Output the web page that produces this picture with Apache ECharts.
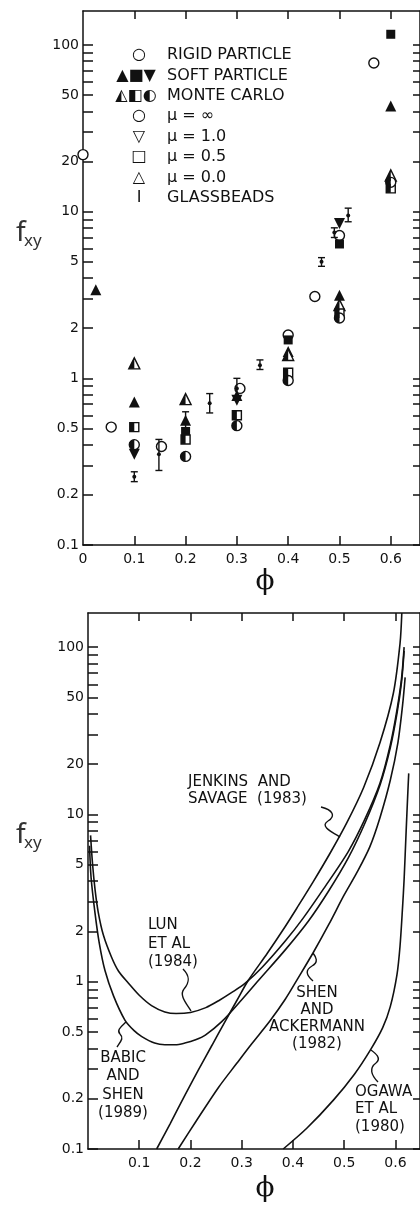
<!DOCTYPE html>
<html>
<head>
<meta charset="utf-8">
<script src="https://cdn.jsdelivr.net/npm/echarts@6/dist/echarts.min.js"></script>
<style>
  html, body { margin: 0; padding: 0; background: #fff; }
  #chart { width: 420px; height: 1206px; }
</style>
</head>
<body>
<div id="chart"></div>
<script>
// ---- top panel: f_xy vs phi, simulation points ----
var rigidPhi = [0.0, 0.055, 0.153, 0.306, 0.4, 0.452, 0.5, 0.567];
var rigidF = [22, 0.51, 0.39, 0.87, 1.82, 3.1, 7.2, 78];

var softUpPhi = [0.025, 0.1, 0.2, 0.3, 0.4, 0.5, 0.6];   // mu = 0.0
var softUpF = [3.4, 0.72, 0.56, 0.79, 1.45, 3.15, 43];
var softSqPhi = [0.2, 0.4, 0.5, 0.6];                    // mu = 0.5
var softSqF = [0.48, 1.7, 6.4, 116];
var softDownPhi = [0.1, 0.3, 0.5];                       // mu = 1.0
var softDownF = [0.35, 0.74, 8.5];

var mcTriPhi = [0.1, 0.2, 0.4, 0.5, 0.6];
var mcTriF = [1.23, 0.75, 1.38, 2.75, 16.5];
var mcSqPhi = [0.1, 0.2, 0.3, 0.4, 0.5, 0.6];
var mcSqF = [0.51, 0.43, 0.6, 1.08, 2.45, 13.8];
var mcCircPhi = [0.1, 0.2, 0.3, 0.4, 0.5, 0.6];
var mcCircF = [0.40, 0.34, 0.52, 0.97, 2.3, 15];

var glassPhi = [0.1, 0.148, 0.2, 0.247, 0.3, 0.345, 0.465, 0.49, 0.517];
var glassMid = [0.257, 0.35, 0.55, 0.71, 0.87, 1.2, 5.0, 7.5, 9.5];
var glassLo = [0.24, 0.28, 0.5, 0.62, 0.75, 1.13, 4.7, 7.0, 8.7];
var glassHi = [0.275, 0.43, 0.63, 0.81, 1.0, 1.29, 5.3, 8.0, 10.5];

// ---- bottom panel: model curves ----
var lunPhi = [0.005, 0.009, 0.014, 0.02, 0.03, 0.046, 0.06, 0.079, 0.1, 0.124, 0.15, 0.172, 0.2, 0.23, 0.255, 0.28, 0.307, 0.34, 0.385, 0.42, 0.46, 0.508, 0.54, 0.57, 0.59, 0.603, 0.612, 0.617];
var lunF = [7.5, 5.0, 3.5, 2.6, 1.9, 1.4, 1.15, 0.98, 0.83, 0.72, 0.66, 0.645, 0.655, 0.7, 0.77, 0.86, 0.98, 1.22, 1.75, 2.4, 3.6, 6.0, 9.3, 15.4, 26, 42, 65, 100];

var babicPhi = [0.003, 0.006, 0.0137, 0.022, 0.033, 0.05, 0.072, 0.09, 0.105, 0.13, 0.15, 0.17, 0.189, 0.21, 0.229, 0.261, 0.3, 0.333, 0.385, 0.43, 0.47, 0.508, 0.54, 0.57, 0.59, 0.603, 0.612, 0.617];
var babicF = [6.5, 4.2, 2.57, 1.7, 1.17, 0.82, 0.59, 0.51, 0.47, 0.43, 0.42, 0.42, 0.43, 0.45, 0.48, 0.577, 0.78, 1.02, 1.55, 2.3, 3.5, 5.5, 8.8, 15, 25, 40, 62, 95];

var jenkinsPhi = [0.134, 0.16, 0.189, 0.215, 0.242, 0.268, 0.29, 0.313, 0.35, 0.385, 0.4075, 0.44, 0.473, 0.505, 0.538, 0.57, 0.596, 0.609, 0.6125];
var jenkinsF = [0.1, 0.141, 0.209, 0.295, 0.417, 0.582, 0.767, 1.02, 1.48, 2.14, 2.75, 3.98, 5.9, 8.9, 14.5, 26.9, 53, 105, 160];

var shenPhi = [0.176, 0.21, 0.255, 0.29, 0.32, 0.355, 0.385, 0.41, 0.44, 0.47, 0.5, 0.525, 0.55, 0.57, 0.59, 0.605, 0.614, 0.619];
var shenF = [0.1, 0.145, 0.234, 0.324, 0.427, 0.582, 0.785, 1.05, 1.5, 2.2, 3.3, 4.5, 6.4, 9.6, 16, 27, 45, 66];

var ogawaPhi = [0.381, 0.427, 0.479, 0.52, 0.551, 0.575, 0.59, 0.603, 0.609, 0.614, 0.617, 0.621, 0.624, 0.626];
var ogawaF = [0.1, 0.133, 0.196, 0.28, 0.39, 0.53, 0.71, 1.1, 1.63, 2.8, 4.1, 8, 13, 17.6];

// ---- ticks / labels ----
var xLabelsTop = [0, 0.1, 0.2, 0.3, 0.4, 0.5, 0.6];
var xLabelsBottom = [0.1, 0.2, 0.3, 0.4, 0.5, 0.6];
var xTicks = [0.1, 0.2, 0.3, 0.4, 0.5, 0.6];
var yLabels = [0.1, 0.2, 0.5, 1, 2, 5, 10, 20, 50, 100];
var yTicks = [0.1, 0.2, 0.3, 0.4, 0.5, 0.6, 0.7, 0.8, 0.9, 1, 2, 3, 4, 5, 6, 7, 8, 9, 10, 20, 30, 40, 50, 60, 70, 80, 90, 100];

var legendMarks = ['○', '▲■▼', '◭◧◐', '○', '▽', '□', '△', 'I'];
var legendTexts = ['RIGID PARTICLE', 'SOFT PARTICLE', 'MONTE CARLO', 'μ = ∞', 'μ = 1.0', 'μ = 0.5', 'μ = 0.0', 'GLASSBEADS'];

var Y_MIN = 0.1, Y_MAX = 160;
var INK = '#111';
var FONT = 'DejaVu Sans';

function pairs(xs, ys) {
  return xs.map(function (x, i) { return [x, ys[i]]; });
}

function fmtLog(v) {
  return String(parseFloat(Math.pow(10, v).toPrecision(3)));
}

function xAxes(gridIndex, xMax, labels) {
  var line = { show: true, onZero: false, lineStyle: { color: INK, width: 1.5 } };
  return [{
    gridIndex: gridIndex, type: 'value', position: 'bottom', min: 0, max: xMax,
    axisLine: line,
    axisTick: { inside: true, length: 9, customValues: xTicks, lineStyle: { color: INK, width: 1.5 } },
    axisLabel: {
      customValues: labels, margin: 7, color: INK, fontFamily: FONT, fontSize: 14,
      formatter: function (v) { return v === 0 ? '0' : v.toFixed(1); }
    },
    splitLine: { show: false }
  }, {
    gridIndex: gridIndex, type: 'value', position: 'top', min: 0, max: xMax,
    axisLine: line,
    axisTick: { inside: true, length: 8, customValues: xTicks, lineStyle: { color: INK, width: 1.5 } },
    axisLabel: { show: false },
    splitLine: { show: false }
  }];
}

function yAxes(gridIndex) {
  var lo = Math.log10(Y_MIN), hi = Math.log10(Y_MAX);
  var tickVals = yTicks.map(Math.log10);
  return [{
    // the real log scale used by the series
    gridIndex: gridIndex, type: 'log', logBase: 10, min: Y_MIN, max: Y_MAX, show: false
  }, {
    gridIndex: gridIndex, type: 'value', position: 'left', min: lo, max: hi,
    axisLine: { show: true, onZero: false, lineStyle: { color: INK, width: 1.5 } },
    axisTick: { inside: true, length: 10, customValues: tickVals, lineStyle: { color: INK, width: 1.5 } },
    axisLabel: {
      customValues: yLabels.map(Math.log10), margin: 4, color: INK, fontFamily: FONT, fontSize: 14,
      formatter: fmtLog
    },
    splitLine: { show: false }
  }, {
    gridIndex: gridIndex, type: 'value', position: 'right', min: lo, max: hi,
    axisLine: { show: true, onZero: false, lineStyle: { color: INK, width: 1.5 } },
    axisTick: { inside: true, length: 7, customValues: tickVals, lineStyle: { color: INK, width: 1.5 } },
    axisLabel: { show: false },
    splitLine: { show: false }
  }];
}

function scatter(name, xs, ys, symbol, size, style, extra) {
  var s = {
    type: 'scatter', name: name, xAxisIndex: 0, yAxisIndex: 0,
    data: pairs(xs, ys), symbol: symbol, symbolSize: size,
    itemStyle: style, emphasis: { disabled: true }, z: 3
  };
  for (var k in extra) s[k] = extra[k];
  return s;
}

var openStyle = { color: '#fff', borderColor: INK, borderWidth: 1.4, opacity: 1 };
var solidStyle = { color: INK, opacity: 1 };

// half-filled Monte Carlo markers: open outline + left half in black
var halfTri = 'path://M1,0 L0,2 L1,2 Z';
var halfCirc = 'path://M1,0 A1,1 0 0 0 1,2 Z';

function curve(name, xs, ys) {
  return {
    type: 'line', name: name, xAxisIndex: 2, yAxisIndex: 3,
    data: pairs(xs, ys), showSymbol: false, smooth: 0.3,
    lineStyle: { color: INK, width: 1.6 }, emphasis: { disabled: true }, clip: true
  };
}

var glassSeries = {
  type: 'custom', name: 'GLASSBEADS', xAxisIndex: 0, yAxisIndex: 0,
  data: glassPhi.map(function (p, i) { return [p, glassMid[i], glassLo[i], glassHi[i]]; }),
  encode: { x: 0, y: [1, 2, 3] },
  z: 4,
  renderItem: function (params, api) {
    var x = api.value(0);
    var top = api.coord([x, api.value(3)]);
    var bot = api.coord([x, api.value(2)]);
    var mid = api.coord([x, api.value(1)]);
    var w = 3.5;
    var st = { stroke: INK, lineWidth: 1.4 };
    return {
      type: 'group',
      children: [
        { type: 'line', shape: { x1: top[0], y1: top[1], x2: bot[0], y2: bot[1] }, style: st },
        { type: 'line', shape: { x1: top[0] - w, y1: top[1], x2: top[0] + w, y2: top[1] }, style: st },
        { type: 'line', shape: { x1: bot[0] - w, y1: bot[1], x2: bot[0] + w, y2: bot[1] }, style: st },
        { type: 'circle', shape: { cx: mid[0], cy: mid[1], r: 2 }, style: { fill: INK } }
      ]
    };
  }
};

// ---- annotations ----
var graphics = [];
function addText(x, y, text, font, align, vAlign, lineHeight, fill) {
  graphics.push({
    type: 'text', x: x, y: y, silent: true,
    style: {
      text: text, font: font, fill: fill || INK, textAlign: align || 'left',
      textVerticalAlign: vAlign || 'middle', lineHeight: lineHeight
    }
  });
}
// squiggle pointer: two cubic segments through a middle point
function addSquiggle(p) {
  var st = { fill: null, stroke: INK, lineWidth: 1.4 };
  graphics.push({ type: 'bezierCurve', silent: true, style: st,
    shape: { x1: p[0], y1: p[1], cpx1: p[2], cpy1: p[3], cpx2: p[4], cpy2: p[5], x2: p[6], y2: p[7] } });
  graphics.push({ type: 'bezierCurve', silent: true, style: st,
    shape: { x1: p[6], y1: p[7], cpx1: p[8], cpy1: p[9], cpx2: p[10], cpy2: p[11], x2: p[12], y2: p[13] } });
}

legendTexts.forEach(function (t, i) {
  var y = 55 + i * 20.4;
  addText(i === 1 || i === 2 ? 136 : 139, y, legendMarks[i], '16px ' + FONT, 'center');
  addText(167, y, t, '16px ' + FONT, 'left');
});

// axis titles for both panels
[0, 602].forEach(function (dy) {
  addText(16, 233 + dy, 'f', '28px "Noto Sans"', 'left', 'middle', null, '#333');
  addText(24, 241 + dy, 'xy', '17px "Noto Sans"', 'left', 'middle', null, '#333');
});
addText(265, 582, 'ϕ', '28px "DejaVu Serif"', 'center');
addText(265, 1189, 'ϕ', '28px "DejaVu Serif"', 'center');

var aFont = '15px ' + FONT;
addText(188, 774, 'JENKINS  AND\nSAVAGE  (1983)', aFont, 'left', 'top', 17);
addText(148, 916, 'LUN\nET AL\n(1984)', aFont, 'left', 'top', 18.5);
addText(123, 1049, 'BABIC\nAND\nSHEN\n(1989)', aFont, 'center', 'top', 18.3);
addText(317, 985, 'SHEN\nAND\nACKERMANN\n(1982)', aFont, 'center', 'top', 17);
addText(355, 1083, 'OGAWA\nET AL\n(1980)', aFont, 'left', 'top', 17.5);

addSquiggle([321, 807, 333, 810, 336, 816, 328, 821, 320, 826, 330, 831, 340, 837]);
addSquiggle([183, 969, 190, 976, 190, 982, 184, 989, 179, 995, 186, 1003, 191, 1011]);
addSquiggle([117, 1047, 121, 1041, 124, 1038, 120, 1034, 116, 1030, 122, 1026, 126, 1022]);
addSquiggle([313, 981, 306, 975, 305, 970, 312, 966, 319, 962, 316, 957, 313, 953]);
addSquiggle([378, 1082, 371, 1075, 369, 1068, 376, 1063, 382, 1058, 375, 1053, 371, 1050]);

var option = {
  backgroundColor: '#fff',
  animation: false,
  grid: [
    { left: 83, top: 11, width: 337, height: 534, containLabel: false, outerBoundsMode: 'none' },
    { left: 88, top: 613, width: 332, height: 536, containLabel: false, outerBoundsMode: 'none' }
  ],
  xAxis: xAxes(0, 0.657, xLabelsTop).concat(xAxes(1, 0.648, xLabelsBottom)),
  yAxis: yAxes(0).concat(yAxes(1)),
  series: [
    glassSeries,
    scatter('RIGID PARTICLE', rigidPhi, rigidF, 'circle', 10, openStyle),
    scatter('SOFT mu=0.0', softUpPhi, softUpF, 'triangle', 11, solidStyle),
    scatter('SOFT mu=0.5', softSqPhi, softSqF, 'rect', 9, solidStyle),
    scatter('SOFT mu=1.0', softDownPhi, softDownF, 'triangle', 11, solidStyle, { symbolRotate: 180 }),
    scatter('MC mu=0.0', mcTriPhi, mcTriF, 'triangle', 11, openStyle),
    scatter('MC mu=0.0 fill', mcTriPhi, mcTriF, halfTri, [5.5, 11], solidStyle, { symbolOffset: [-2.75, 0], z: 4 }),
    scatter('MC mu=0.5', mcSqPhi, mcSqF, 'rect', 9, openStyle),
    scatter('MC mu=0.5 fill', mcSqPhi, mcSqF, 'rect', [4.5, 9], solidStyle, { symbolOffset: [-2.25, 0], z: 4 }),
    scatter('MC mu=inf', mcCircPhi, mcCircF, 'circle', 10, openStyle),
    scatter('MC mu=inf fill', mcCircPhi, mcCircF, halfCirc, [5, 10], solidStyle, { symbolOffset: [-2.5, 0], z: 4 }),
    curve('LUN ET AL (1984)', lunPhi, lunF),
    curve('BABIC AND SHEN (1989)', babicPhi, babicF),
    curve('JENKINS AND SAVAGE (1983)', jenkinsPhi, jenkinsF),
    curve('SHEN AND ACKERMANN (1982)', shenPhi, shenF),
    curve('OGAWA ET AL (1980)', ogawaPhi, ogawaF)
  ],
  graphic: graphics
};

var chart = echarts.init(document.getElementById('chart'), null, { renderer: 'canvas' });
chart.setOption(option);
</script>
</body>
</html>
